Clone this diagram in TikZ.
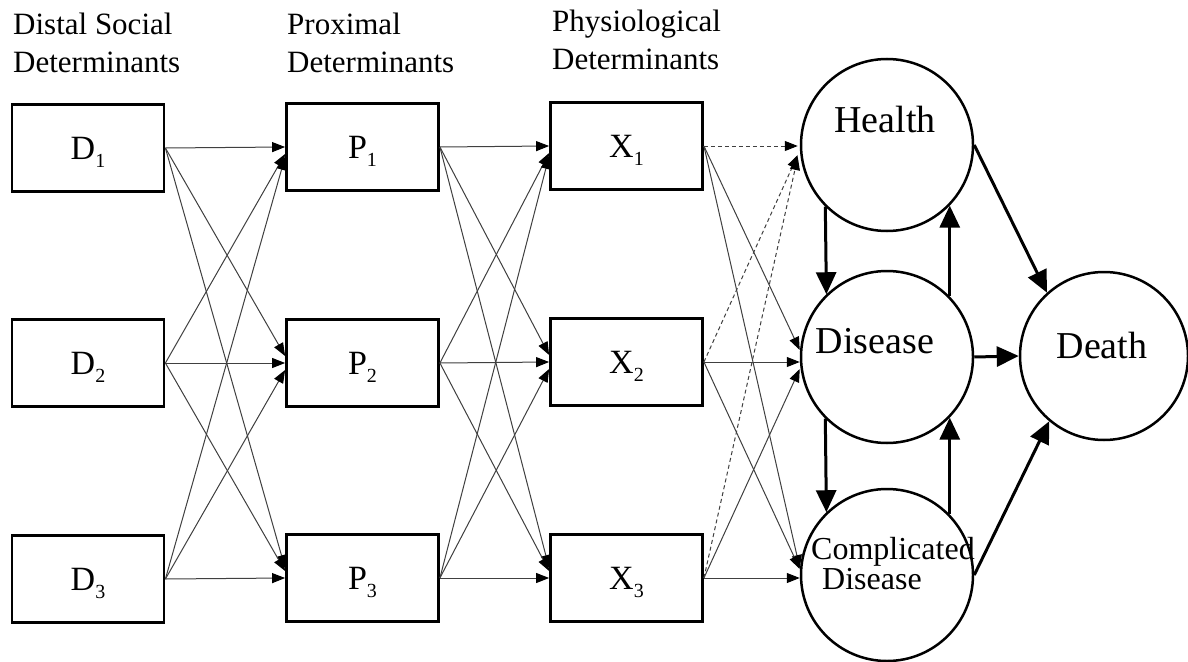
\documentclass[tikz,border=0pt]{standalone}
\usepackage{fontspec}
\setmainfont{Liberation Serif}
\usetikzlibrary{arrows.meta,calc}
\newcommand\boxlab[2]{#1\raisebox{-8pt}{\fontsize{20}{20}\selectfont #2}}
\begin{document}
\begin{tikzpicture}[x=1pt,y=-1pt,
  boxnode/.style={draw, line width=2.8pt, minimum width=152pt, minimum height=87pt, inner sep=0pt,
    font=\fontsize{34}{34}\selectfont, text height=22.5pt, text depth=0pt},
  statenode/.style={circle, draw, line width=2.5pt, minimum size=172pt, inner sep=0pt},
  headtext/.style={anchor=base west, inner sep=0pt, font=\fontsize{31}{31}\selectfont},
  bigtext/.style={anchor=base, inner sep=0pt, font=\fontsize{38}{38}\selectfont},
  midtext/.style={anchor=base west, inner sep=0pt, font=\fontsize{32}{32}\selectfont},
  thinarrow/.style={draw=black!75, line width=1pt, -{Triangle[length=13pt,width=10pt,color=black]}},
  dasharrow/.style={thinarrow, dash pattern=on 4pt off 3pt},
  thickarrow/.style={draw=black, line width=3pt, -{Triangle[length=22pt,width=20pt]}}
]
\fill[white] (0,0) rectangle (1188,661);
\useasboundingbox (0,0) rectangle (1188,661);

% headers
\node[headtext] (h1a) at (13,35) {Distal Social};
\node[headtext] (h1b) at (13,72) {Determinants};
\node[headtext] (h2a) at (287,35) {Proximal};
\node[headtext] (h2b) at (287,72) {Determinants};
\node[headtext] (h3a) at (552,32) {Physiological};
\node[headtext] (h3b) at (552,70) {Determinants};

% boxes
\node[boxnode] (D1) at (88,148) {\boxlab{D}{1}};
\node[boxnode] (D2) at (88,363) {\boxlab{D}{2}};
\node[boxnode] (D3) at (88,579) {\boxlab{D}{3}};
\node[boxnode] (P1) at (362.5,147) {\boxlab{P}{1}};
\node[boxnode] (P2) at (362.5,363) {\boxlab{P}{2}};
\node[boxnode] (P3) at (362.5,578) {\boxlab{P}{3}};
\node[boxnode] (X1) at (626.5,146) {\boxlab{X}{1}};
\node[boxnode] (X2) at (626.5,362) {\boxlab{X}{2}};
\node[boxnode] (X3) at (626.5,578) {\boxlab{X}{3}};

% states
\node[statenode] (H) at (887,145) {};
\node[statenode] (Dis) at (887,357) {};
\node[statenode] (CD) at (887,575) {};
\node[statenode, minimum size=168pt] (Dth) at (1104,356) {};

\node[bigtext] (tH) at (885,132) {Health};
\node[bigtext] (tDis) at (875,353) {Disease};
\node[bigtext] (tDth) at (1102,358) {Death};
\node[midtext] (tC1) at (811,559) {Complicated};
\node[midtext] (tC2) at (822,589) {Disease};

% layer 1
\foreach \s/\t/\o in {D1/P1/0, D2/P1/7, D3/P1/10, D1/P2/-7, D2/P2/0, D3/P2/7, D1/P3/-10, D2/P3/-7, D3/P3/0}
  \draw[thinarrow] (\s.east) -- ($(\t.west)+(0,\o)$);
% layer 2
\foreach \s/\t/\o in {P1/X1/0, P2/X1/7, P3/X1/10, P1/X2/-7, P2/X2/0, P3/X2/7, P1/X3/-10, P2/X3/-7, P3/X3/0}
  \draw[thinarrow] (\s.east) -- ($(\t.west)+(0,\o)$);
% layer 3
\foreach \s/\o in {X1/0, X2/9, X3/11}
  \draw[dasharrow] (\s.east) -- ($(X1.east -| H.west)+(-2,\o)$);
\foreach \s/\o in {X1/-12, X2/0, X3/7}
  \draw[thinarrow] (\s.east) -- ($(X2.east -| Dis.west)+(0,\o)$);
\foreach \s/\o in {X1/-10, X2/-9, X3/0}
  \draw[thinarrow] (\s.east) -- ($(X3.east -| CD.west)+(0,\o)$);

% state transitions
\draw[thickarrow] (H.225.8) -- (Dis.134.2);
\draw[thickarrow] (Dis.44.8) -- (H.-44.8);
\draw[thickarrow] (Dis.225.8) -- (CD.134.2);
\draw[thickarrow] (CD.44.8) -- (Dis.-44.8);
\draw[thickarrow] (H.east) -- (Dth.132);
\draw[thickarrow] (Dis.east) -- (Dth.west);
\draw[thickarrow] (CD.east) -- (Dth.230);
\end{tikzpicture}
\end{document}
